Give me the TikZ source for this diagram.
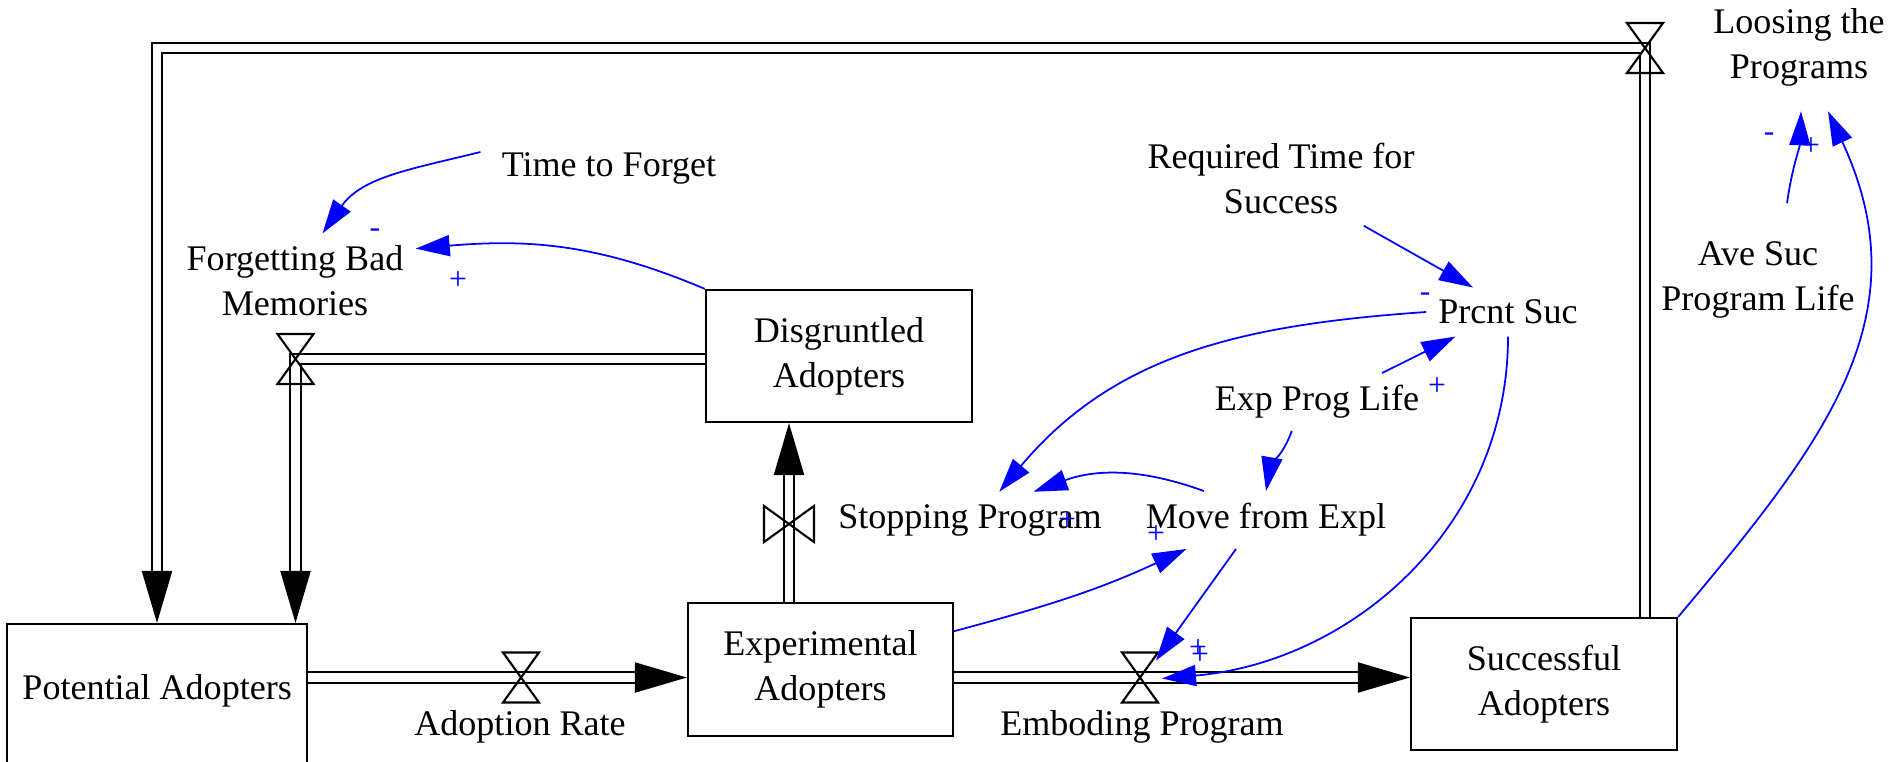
\documentclass[tikz,border=0pt]{standalone}
\usepackage{fontspec}
\setmainfont{Liberation Serif}
\usetikzlibrary{arrows.meta}

\tikzset{
  stock/.style={draw, line width=0.6pt, minimum width=2.66cm, minimum height=1.32cm, align=center},
  var/.style={align=center},
  pipe/.style={double, line width=0.6pt, double distance=2.3pt, -{Triangle[length=0.52cm,width=0.30cm]}},
  link/.style={blue, line width=0.5pt, -{Triangle[length=0.34cm,width=0.21cm]}},
  sign/.style={blue, inner sep=0pt, font=\fontsize{9}{9}\selectfont},
  valve/.pic={\draw[line width=0.6pt] (-18,-25) -- (18,-25) -- (-18,25) -- (18,25) -- cycle;}
}

\begin{document}
\begin{tikzpicture}[x=0.01cm, y=-0.01cm, font=\fontsize{10.25}{12.8}\selectfont]
  \useasboundingbox (0,0) rectangle (1889,761);
  % stocks
  \node[stock, minimum width=3cm, minimum height=1.5cm, text depth=0.24cm, anchor=north west] (pot) at (6,623) {Potential Adopters};
  \node[stock, minimum width=2.65cm, minimum height=1.33cm] (exp) at (820.5,669.5) {Experimental\\Adopters};
  \node[stock] (suc) at (1544,684) {Successful\\Adopters};
  \node[stock] (dis) at (839,356) {Disgruntled\\Adopters};
  % valve points
  \coordinate (adoptv) at (521,677.5);
  \coordinate (embv) at (1140,677.5);
  \coordinate (stopv) at (789,524);
  \coordinate (forgv) at (295.5,359);
  \coordinate (lossv) at (1645,48);
  \coordinate (lossc) at (157,48);
  % flows
  \draw[pipe] (pot.east |- adoptv) -- (exp.west |- adoptv);
  \draw[pipe] (exp.east |- embv) -- (suc.west |- embv);
  \draw[pipe] (stopv |- exp.north) -- (stopv |- dis.south);
  \draw[pipe] (dis.west |- forgv) -- (forgv) -- (forgv |- pot.north);
  \draw[pipe] (lossv |- suc.north) -- (lossv) -- (lossc) -- (lossc |- pot.north);
  % valves
  \pic at (adoptv) {valve};
  \pic at (embv) {valve};
  \pic[rotate=90] at (stopv) {valve};
  \pic at (forgv) {valve};
  \pic at (lossv) {valve};
  % flow names
  \node[var] (adoptl) at (520,727) {Adoption Rate};
  \node[var] (embl) at (1142,727) {Emboding Program};
  \node[var] (stopl) at (970,520) {Stopping Program};
  \node[var] (forget) at (295,281) {Forgetting Bad\\Memories};
  \node[var] (loosing) at (1799,47) {Loosing the\\Programs};
  % variables
  \node[var] (tforget) at (609,168) {Time to Forget};
  \node[var] (reqtime) at (1281,178) {Required Time for\\Success};
  \node[var] (prcnt) at (1508,312) {Prcnt Suc};
  \node[var] (explife) at (1317,402) {Exp Prog Life};
  \node[var] (move) at (1266,520) {Move from Expl};
  \node[var] (avesuc) at (1758,280) {Ave Suc\\Program Life};
  % links
  \draw[link] ([shift={(-9,-16)}]tforget.west) to[out=194,in=55] (forget.60);
  \draw[link] (dis.north west) to[out=157,in=5] (forget.15);
  \draw[link] (reqtime.-30) -- (prcnt.145);
  \draw[link] (prcnt.west) to[out=184,in=50] (stopl.44);
  \draw[link] (move.155) to[out=160,in=20] (stopl.24);
  \draw[link] (explife.24) -- (prcnt.205);
  \draw[link] (explife.229) to[out=250,in=80] (move.north);
  \draw[link] (exp.16) to[out=15,in=205] (move.200);
  \draw[link] (move.224) -- ([shift={(16,-17)}]embv);
  \draw[link] (prcnt.south) to[out=270,in=5] ([shift={(22,1)}]embv);
  \draw[link] ([shift={(29,-26)}]avesuc.north) to[out=82,in=268] ([shift={(2,13)}]loosing.south);
  \draw[link] (suc.north east) to[out=50,in=-65,looseness=1.1] ([shift={(29,13)}]loosing.south);
  % signs
  \node[sign] (s1) at (375,233) {-};
  \node[sign] (s2) at (458,281) {+};
  \node[sign] (s3) at (1425,297) {-};
  \node[sign] (s4) at (1437,387) {+};
  \node[sign] (s5) at (1067,521) {+};
  \node[sign] (s6) at (1156,535) {+};
  \node[sign] (s7) at (1198,649) {+};
  \node[sign] (s8) at (1200,656) {+};
  \node[sign] (s9) at (1769,137) {-};
  \node[sign] (s10) at (1811,147) {+};
\end{tikzpicture}
\end{document}
